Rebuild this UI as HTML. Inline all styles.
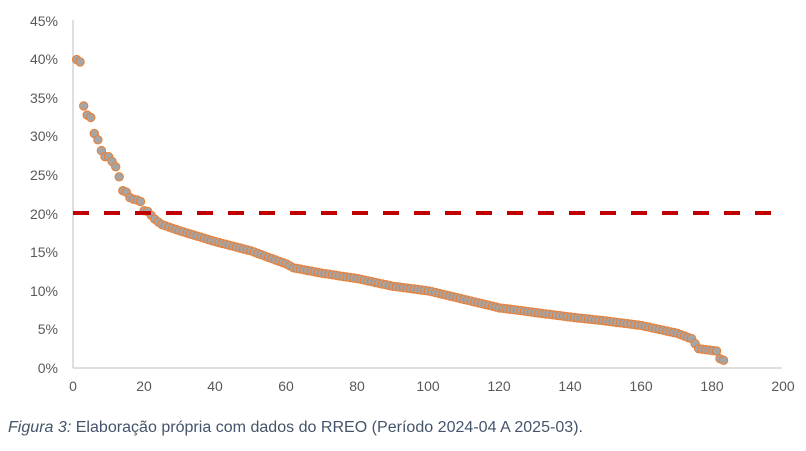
<!DOCTYPE html>
<html><head><meta charset="utf-8"><style>
body{margin:0;background:#fff;width:806px;height:446px;overflow:hidden;font-family:"Liberation Sans",sans-serif}
</style></head><body>
<svg id="s" width="806" height="446" xmlns="http://www.w3.org/2000/svg" font-family="Liberation Sans, sans-serif">
<g font-size="14" fill="#595959" text-anchor="end">
<text x="58" y="373">0%</text><text x="58" y="334">5%</text><text x="58" y="296">10%</text>
<text x="58" y="257">15%</text><text x="58" y="219">20%</text><text x="58" y="180">25%</text>
<text x="58" y="141">30%</text><text x="58" y="103">35%</text><text x="58" y="64">40%</text><text x="58" y="26">45%</text>
</g>
<g font-size="14" fill="#595959" text-anchor="middle">
<text x="73" y="391">0</text><text x="144" y="391">20</text><text x="215" y="391">40</text><text x="286" y="391">60</text>
<text x="357" y="391">80</text><text x="428" y="391">100</text><text x="499" y="391">120</text><text x="570" y="391">140</text>
<text x="641" y="391">160</text><text x="712" y="391">180</text><text x="783" y="391">200</text>
</g>
<line x1="73" y1="20" x2="73" y2="368" stroke="#bfbfbf" stroke-width="1"/>
<line x1="73" y1="368" x2="782" y2="368" stroke="#bfbfbf" stroke-width="1"/>
<g id="pts"></g>
<line x1="73" y1="213" x2="782" y2="213" stroke="#c00000" stroke-width="4" stroke-dasharray="16,15"/>
<text x="8" y="432" font-size="15.5" fill="#44546a" textLength="575" lengthAdjust="spacingAndGlyphs"><tspan font-style="italic">Figura 3:</tspan> Elaboração própria com dados do RREO (Período 2024-04 A 2025-03).</text>
</svg>
<script>
var k=[[1,40],[2,39.7],[3,34],[4,32.8],[5,32.5],[6,30.4],[7,29.6],[8,28.2],[9,27.4],[10,27.4],[11,26.8],[12,26.1],[13,24.8],[14,23],[15,22.8],[16,22.1],[17,21.9],[18,21.8],[19,21.6],[20,20.4],[21,20.3],[22,19.8],[23,19.3],[25,18.6],[30,17.8],[40,16.4],[50,15.2],[60,13.5],[62,13],[70,12.3],[80,11.6],[90,10.6],[100,10],[110,8.9],[120,7.8],[130,7.2],[140,6.6],[150,6.1],[160,5.5],[170,4.5],[174,3.8],[176,2.5],[181,2.2],[182,1.2],[183,1.0]];
var g=document.getElementById('pts'),h='';
for(var i=1;i<=183;i++){var v;for(var j=0;j<k.length-1;j++){if(i>=k[j][0]&&i<=k[j+1][0]){var t=(i-k[j][0])/(k[j+1][0]-k[j][0]);v=k[j][1]+t*(k[j+1][1]-k[j][1]);break;}}
var x=73+i*3.555,y=368-v*7.71;
h+='<circle cx="'+x.toFixed(1)+'" cy="'+y.toFixed(1)+'" r="4.2" fill="#a5a5a5" stroke="#ed7d31" stroke-width="1"/>';}
g.innerHTML=h;
</script>
</body></html>
